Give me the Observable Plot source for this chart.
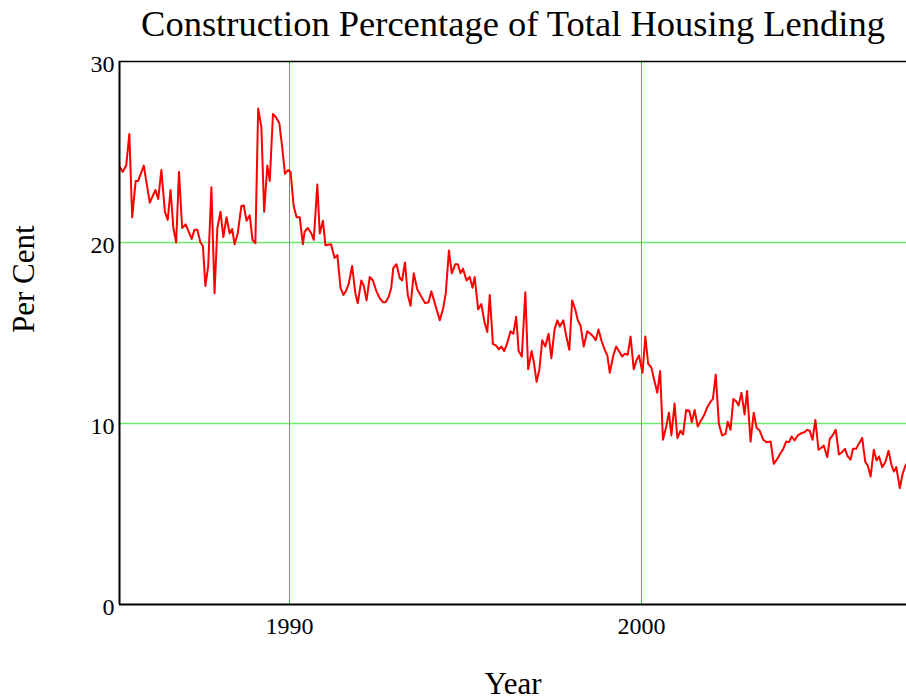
<!DOCTYPE html>
<html>
<head>
<meta charset="utf-8">
<script src="https://cdn.jsdelivr.net/npm/d3@7"></script>
<script src="https://cdn.jsdelivr.net/npm/@observablehq/plot@0.6"></script>
<style>
  html, body { margin: 0; padding: 0; background: #fff; }
</style>
</head>
<body>
<div id="chart"></div>
<script>
const titleText = "Construction Percentage of Total Housing Lending";
const xLabel = "Year";
const yLabel = "Per Cent";
const xTicks = [1990, 2000];
const yTicks = [0, 10, 20, 30];
const xDomain = [1985.17, 2007.53];
const yDomain = [0, 30];
const gridValues = [10, 20];

const years = [
  1985.17, 1985.26, 1985.36, 1985.45, 1985.53, 1985.63, 1985.70, 1985.86, 1986.03, 1986.19,
  1986.27, 1986.36, 1986.46, 1986.54, 1986.62, 1986.70, 1986.78, 1986.86, 1986.95, 1987.05,
  1987.22, 1987.30, 1987.38, 1987.47, 1987.54, 1987.61, 1987.69, 1987.78, 1987.87, 1987.95,
  1988.04, 1988.12, 1988.21, 1988.30, 1988.37, 1988.44, 1988.53, 1988.63, 1988.70, 1988.78,
  1988.87, 1988.95, 1989.03, 1989.11, 1989.20, 1989.28, 1989.37, 1989.44, 1989.53, 1989.60,
  1989.71, 1989.79, 1989.87, 1989.96, 1990.03, 1990.12, 1990.20, 1990.29, 1990.38, 1990.43,
  1990.52, 1990.62, 1990.69, 1990.79, 1990.86, 1990.95, 1991.02, 1991.18, 1991.28, 1991.36,
  1991.45, 1991.53, 1991.60, 1991.68, 1991.78, 1991.87, 1991.94, 1992.04, 1992.11, 1992.19,
  1992.28, 1992.37, 1992.47, 1992.57, 1992.66, 1992.73, 1992.82, 1992.89, 1992.95, 1993.04,
  1993.13, 1993.20, 1993.28, 1993.36, 1993.44, 1993.53, 1993.63, 1993.72, 1993.85, 1993.95,
  1994.03, 1994.15, 1994.27, 1994.37, 1994.44, 1994.53, 1994.61, 1994.71, 1994.78, 1994.86,
  1994.93, 1995.03, 1995.12, 1995.20, 1995.26, 1995.36, 1995.45, 1995.54, 1995.62, 1995.69,
  1995.78, 1995.87, 1995.95, 1996.02, 1996.10, 1996.18, 1996.28, 1996.36, 1996.44, 1996.51,
  1996.60, 1996.70, 1996.78, 1996.88, 1996.95, 1997.02, 1997.10, 1997.18, 1997.27, 1997.36,
  1997.44, 1997.53, 1997.61, 1997.68, 1997.78, 1997.86, 1997.95, 1998.03, 1998.12, 1998.19,
  1998.27, 1998.36, 1998.46, 1998.55, 1998.63, 1998.70, 1998.78, 1998.86, 1998.95, 1999.03,
  1999.10, 1999.20, 1999.28, 1999.36, 1999.45, 1999.53, 1999.61, 1999.69, 1999.78, 1999.86,
  1999.93, 2000.03, 2000.11, 2000.19, 2000.28, 2000.35, 2000.45, 2000.53, 2000.61, 2000.70,
  2000.78, 2000.85, 2000.94, 2001.02, 2001.11, 2001.18, 2001.27, 2001.36, 2001.43, 2001.51,
  2001.60, 2001.70, 2001.79, 2001.87, 2001.96, 2002.03, 2002.11, 2002.20, 2002.29, 2002.39,
  2002.45, 2002.53, 2002.61, 2002.70, 2002.76, 2002.84, 2002.93, 2003.00, 2003.10, 2003.19,
  2003.27, 2003.36, 2003.46, 2003.55, 2003.67, 2003.76, 2003.86, 2003.95, 2004.03, 2004.11,
  2004.19, 2004.27, 2004.35, 2004.44, 2004.54, 2004.63, 2004.71, 2004.78, 2004.86, 2004.94,
  2005.03, 2005.11, 2005.18, 2005.28, 2005.35, 2005.43, 2005.52, 2005.61, 2005.69, 2005.78,
  2005.86, 2005.94, 2006.01, 2006.10, 2006.18, 2006.27, 2006.36, 2006.43, 2006.51, 2006.60,
  2006.68, 2006.75, 2006.84, 2006.93, 2007.02, 2007.10, 2007.17, 2007.24, 2007.34, 2007.42,
  2007.50, 2007.59
];

const values = [
  24.2, 23.9, 24.25, 26.0, 21.4, 23.4, 23.4, 24.25, 22.2, 22.9,
  22.4, 24.0, 21.7, 21.25, 22.9, 20.8, 20.0, 23.9, 20.8, 21.0,
  20.2, 20.7, 20.7, 20.0, 19.8, 17.6, 18.7, 23.05, 17.2, 20.8,
  21.7, 20.3, 21.4, 20.5, 20.75, 19.9, 20.5, 22.0, 22.05, 21.2,
  21.5, 20.15, 19.96, 27.4, 26.4, 21.7, 24.25, 23.4, 27.1, 26.96,
  26.6, 25.3, 23.8, 24.0, 23.9, 22.0, 21.4, 21.4, 19.9, 20.6,
  20.8, 20.5, 20.15, 23.2, 20.5, 21.2, 19.85, 19.9, 19.15, 19.3,
  17.5, 17.1, 17.3, 17.7, 18.7, 17.2, 16.65, 17.9, 17.6, 16.8,
  18.1, 17.9, 17.3, 16.9, 16.7, 16.7, 17.0, 17.5, 18.6, 18.8,
  18.05, 17.9, 18.9, 17.1, 16.5, 18.3, 17.4, 17.1, 16.65, 16.7,
  17.3, 16.5, 15.7, 16.4, 17.2, 19.56, 18.3, 18.8, 18.8, 18.3,
  18.55, 17.9, 18.1, 17.5, 18.1, 16.3, 16.6, 15.6, 15.05, 17.1,
  14.4, 14.3, 14.1, 14.25, 14.0, 14.4, 15.1, 14.96, 15.9, 14.0,
  13.7, 17.25, 13.0, 14.0, 13.3, 12.3, 13.0, 14.6, 14.25, 14.96,
  13.6, 15.2, 15.7, 15.36, 15.7, 14.86, 14.07, 16.8, 16.3, 15.7,
  15.4, 14.25, 15.1, 14.96, 14.8, 14.6, 15.2, 14.6, 14.1, 13.76,
  12.8, 13.76, 14.25, 14.0, 13.7, 13.85, 13.8, 14.8, 13.0, 13.5,
  13.76, 12.8, 14.8, 13.3, 13.1, 12.5, 11.7, 12.9, 9.1, 9.8,
  10.6, 9.34, 11.1, 9.2, 9.6, 9.4, 10.75, 10.7, 10.07, 10.75,
  9.83, 10.2, 10.5, 10.9, 11.2, 11.36, 12.7, 9.98, 9.34, 9.43,
  10.1, 9.65, 11.36, 11.2, 11.0, 11.7, 10.5, 11.8, 9.0, 10.6,
  9.76, 9.6, 9.1, 8.97, 9.0, 7.77, 8.05, 8.36, 8.6, 9.0,
  8.97, 9.28, 9.06, 9.34, 9.46, 9.52, 9.65, 9.6, 9.1, 10.2,
  8.55, 8.66, 8.78, 8.14, 9.15, 9.34, 9.65, 8.29, 8.4, 8.6,
  8.18, 8.0, 8.6, 8.6, 8.9, 9.2, 7.87, 7.68, 7.07, 8.55,
  7.96, 8.18, 7.59, 7.87, 8.5, 7.73, 7.35, 7.59, 6.43, 7.22,
  7.68, 7.9
];

const data = years.map((x, i) => ({x, y: values[i]}));

const chart = Plot.plot({
  width: 906,
  height: 700,
  marginTop: 61,
  marginBottom: 96,
  marginLeft: 119,
  marginRight: 0,
  style: {fontFamily: "'Liberation Serif', 'Times New Roman', serif", background: "#fff", color: "#000"},
  x: {domain: xDomain},
  y: {domain: yDomain},
  marks: [
    Plot.ruleY(gridValues, {stroke: "#6ee86e", strokeWidth: 1.4}),
    Plot.ruleX(xTicks, {stroke: "#22cc22", strokeWidth: 1}),
    Plot.axisX({ticks: xTicks, tickFormat: "d", tickSize: 0, tickPadding: 12, fontSize: 24, label: null}),
    Plot.axisY({ticks: yTicks, tickSize: 0, tickPadding: 5, fontSize: 24, dy: 3, label: null}),
    Plot.line(data, {x: "x", y: "y", stroke: "#ff0000", strokeWidth: 2, clip: true}),
    Plot.ruleY([yDomain[0]], {stroke: "#000", strokeWidth: 2}),
    Plot.ruleY([yDomain[1]], {stroke: "#000", strokeWidth: 1.5}),
    Plot.ruleX([xDomain[0]], {stroke: "#000", strokeWidth: 2}),
    Plot.text([titleText], {frameAnchor: "top", dy: -37, fontSize: 36.5, lineAnchor: "middle", fill: "#000"}),
    Plot.text([xLabel], {frameAnchor: "bottom", dy: 80, fontSize: 31, lineAnchor: "middle", fill: "#000"}),
    Plot.text([yLabel], {frameAnchor: "left", dx: -95, rotate: -90, fontSize: 31, lineAnchor: "middle", fill: "#000"})
  ]
});
document.getElementById("chart").appendChild(chart);
</script>
</body>
</html>
